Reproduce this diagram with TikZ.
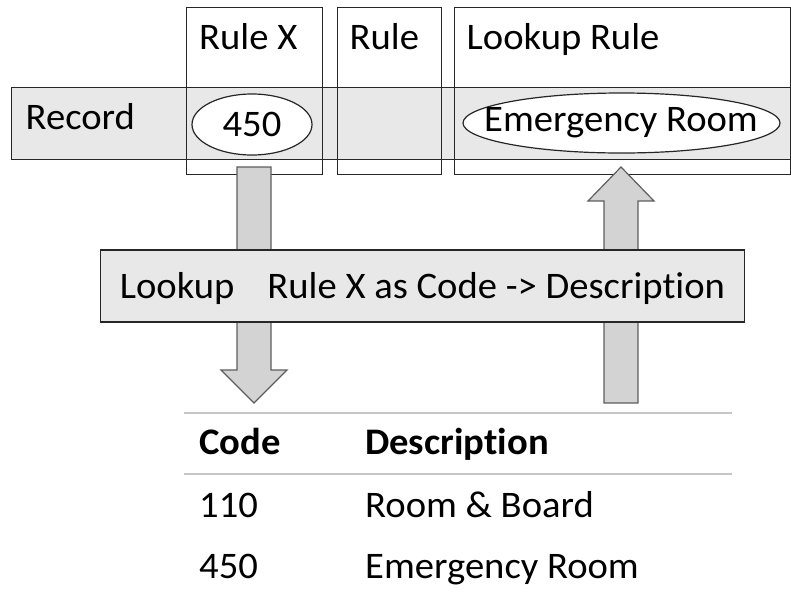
\documentclass[tikz,border=0pt]{standalone}
\usepackage{fontspec}
\setmainfont{Carlito}[FakeStretch=1.03, Ligatures={NoCommon}]
\usetikzlibrary{calc,shapes.geometric}
\definecolor{bandgray}{HTML}{E8E8E8}
\definecolor{arrowgray}{HTML}{D3D3D3}
\definecolor{arrowedge}{HTML}{5E5E5E}
\definecolor{rulegray}{HTML}{C6C6C6}
\definecolor{edgedark}{HTML}{262626}
\begin{document}
\begin{tikzpicture}[x=1pt,y=-1pt,
  txt/.style={anchor=base west, inner sep=0pt, font=\fontsize{37.5}{40}\selectfont},
  bold/.style={txt, font=\fontsize{37.5}{40}\selectfont\bfseries},
  colbox/.style={draw=edgedark, line width=1.4pt, anchor=north west, inner sep=0pt},
  bandbox/.style={colbox, fill=bandgray},
  valoval/.style={ellipse, draw=edgedark, line width=1.2pt, fill=white, inner sep=0pt},
  lookupbox/.style={draw=edgedark, line width=1.4pt, fill=bandgray, inner sep=0pt,
    text height=24pt, text depth=0pt, font=\fontsize{37.5}{40}\selectfont},
  blockarrow/.style={draw=arrowedge, line width=1.2pt, fill=arrowgray, line join=miter},
  tablerule/.style={draw=rulegray, line width=2pt}]
\useasboundingbox (0,0) rectangle (791,592);

% record row and the three rule columns
\node[bandbox, minimum width=779, minimum height=72] (record) at (11,87) {};
\node[colbox, minimum width=136, minimum height=167] (rulex) at (186,7) {};
\node[colbox, minimum width=104, minimum height=167] (rule) at (337,7) {};
\node[colbox, minimum width=336, minimum height=167] (lookuprule) at (454,7) {};

\node[txt] (recordlbl) at (25.5,129.3) {Record};
\node[txt] (rulexlbl) at (199,49.5) {Rule X};
\node[txt] (rulelbl) at (349.5,49.5) {Rule};
\node[txt] (lookuprulelbl) at (466.5,49.5) {Lookup Rule};

% field values
\node[valoval, minimum width=120, minimum height=61] (code450) at (252,124.5) {};
\node[txt, anchor=base] (code450txt) at (252,136.5) {450};
\node[valoval, minimum width=317, minimum height=60] (emergency) at (621.5,123) {};
\node[txt, anchor=base] (emergencytxt) at (621,131) {Emergency Room};

% block arrows: code goes down into the table, description comes back up
\coordinate (downstart) at (254,167);
\coordinate (downtip) at (254,403);
\coordinate (uptip) at (621,167);
\coordinate (upstart) at (621,403);

\draw[blockarrow] ($(downstart)+(-17,0)$) -- ($(downstart)+(17,0)$)
  -- ($(downtip)+(17,-33)$) -- ($(downtip)+(33,-33)$) -- (downtip)
  -- ($(downtip)+(-33,-33)$) -- ($(downtip)+(-17,-33)$) -- cycle;
\draw[blockarrow] ($(upstart)+(-17,0)$) -- ($(upstart)+(17,0)$)
  -- ($(uptip)+(17,34)$) -- ($(uptip)+(33,34)$) -- (uptip)
  -- ($(uptip)+(-33,34)$) -- ($(uptip)+(-17,34)$) -- cycle;

% lookup instruction
\node[lookupbox, minimum width=643.6, minimum height=71.7] (lookup) at (422.5,286)
  {Lookup\hspace{33pt}Rule X as Code -> Description};

% code table
\draw[tablerule] (184,413) coordinate (tl) -- (732,413) coordinate (tr);
\draw[tablerule] (184,474) coordinate (ml) -- (732,474) coordinate (mr);

\node[bold] (hcode) at (199,454) {Code};
\node[bold] (hdesc) at (365,454) {Description};
\node[txt] (c110) at (199,517) {110};
\node[txt] (d110) at (365,517) {Room \& Board};
\node[txt] (c450) at (199,578) {450};
\node[txt] (d450) at (365,578) {Emergency Room};
\end{tikzpicture}
\end{document}
